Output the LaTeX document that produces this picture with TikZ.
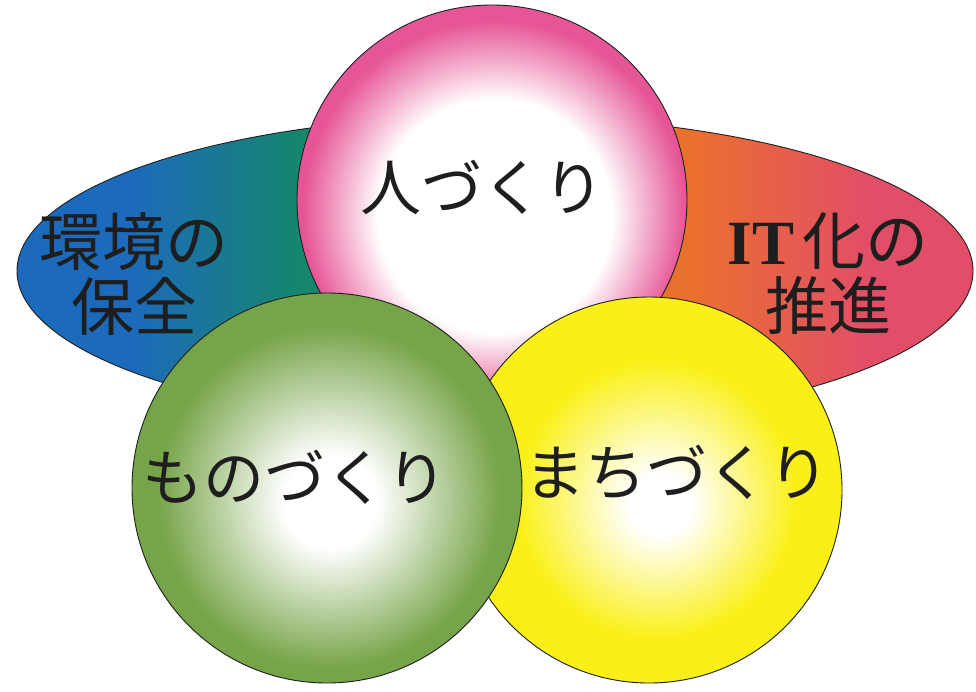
\documentclass[tikz,border=0pt]{standalone}
\usepackage{fontspec}
\newfontfamily\jp{Noto Sans CJK JP}
\newfontfamily\latinserif{Liberation Serif}
\definecolor{bluec}{RGB}{28,106,188}
\definecolor{tealc}{RGB}{22,134,108}
\definecolor{orangec}{RGB}{234,112,46}
\definecolor{redc}{RGB}{226,78,104}
\definecolor{pinkc}{RGB}{230,86,150}
\definecolor{greenc}{RGB}{118,164,72}
\definecolor{yellowc}{RGB}{250,240,24}
\definecolor{inkc}{RGB}{30,30,30}
\pgfdeclareradialshading{pinkball}{\pgfpoint{0.5bp}{-3bp}}{color(0bp)=(white); color(15bp)=(white); color(24.5bp)=(pinkc); color(25bp)=(pinkc); color(50bp)=(pinkc)}
\pgfdeclareradialshading{greenball}{\pgfpoint{0.5bp}{-2bp}}{color(0bp)=(white); color(6bp)=(white); color(22bp)=(greenc); color(25bp)=(greenc); color(50bp)=(greenc)}
\pgfdeclareradialshading{yellowball}{\pgfpoint{1.5bp}{-2bp}}{color(0bp)=(white); color(4bp)=(white); color(18bp)=(yellowc); color(25bp)=(yellowc); color(50bp)=(yellowc)}
\begin{document}
\begin{tikzpicture}[x=1pt,y=-1pt,
  ball/.style={circle, draw=inkc, line width=0.9pt, minimum size=#1, inner sep=0pt},
  lbl/.style={inner sep=0pt, font=\jp\fontsize{61}{66}\selectfont, text=inkc},
  elbl/.style={inner sep=0pt, font=\jp\fontsize{63}{65}\selectfont, align=center, text=inkc},
  edge/.style={draw=inkc, line width=0.9pt}]
\useasboundingbox (0,0) rectangle (976,691);
\fill[white] (0,0) rectangle (976,691);
% back ellipse
\begin{scope}
  \clip (495,271) ellipse [x radius=478, y radius=155];
  \fill[bluec] (0,100) rectangle (131,450);
  \shade[left color=bluec, right color=tealc] (130,100) rectangle (300,450);
  \fill[tealc] (299,100) rectangle (496,450);
  \fill[orangec] (495,100) rectangle (691,450);
  \shade[left color=orangec, right color=redc] (690,100) rectangle (870,450);
  \fill[redc] (869,100) rectangle (976,450);
\end{scope}
\path[edge] (495,271) ellipse [x radius=478, y radius=155];
% circles
\node[ball=390pt, shading=pinkball] (hito) at (492,200) {};
\node[ball=386pt, shading=yellowball] (machi) at (649,490) {};
\node[ball=390pt, shading=greenball] (mono) at (327,488) {};
% labels
\node[elbl] (kankyo) at (134,274) {環境の\\保全};
\node[elbl] (it) at (828,274) {{\latinserif\bfseries IT}\hspace{0.12em}化の\\推進};
\node[lbl] (thito) at (482,187) {人づくり};
\node[lbl] (tmono) at (295,477) {ものづくり};
\node[lbl] (tmachi) at (677,472) {まちづくり};
\end{tikzpicture}
\end{document}
